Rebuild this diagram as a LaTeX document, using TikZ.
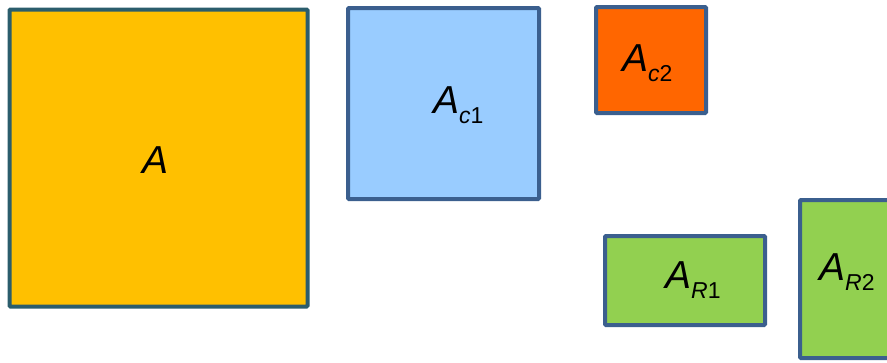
\documentclass[tikz,border=0pt]{standalone}
\usepackage{fontspec}
\setmainfont{Liberation Sans}
\usepackage{tikz}
\usetikzlibrary{positioning}

\definecolor{areaA}{HTML}{FFC000}
\definecolor{areaC1}{HTML}{99CCFF}
\definecolor{areaC2}{HTML}{FF6600}
\definecolor{areaR}{HTML}{92D050}
\definecolor{edgeTeal}{HTML}{2B5D6C}
\definecolor{edgeBlue}{HTML}{3B5F8E}

\newcommand{\arealbl}[2]{\fontsize{39}{39}\selectfont\itshape A\raisebox{-10pt}{\fontsize{23}{23}\selectfont #1\upshape #2}}

\begin{document}
\begin{tikzpicture}[
  x=1pt, y=-1pt,
  box/.style={rectangle, draw=edgeBlue, line width=4pt, rounded corners=1pt, inner sep=0pt},
  lbl/.style={anchor=base west, inner sep=0pt}
]
\useasboundingbox (0,0) rectangle (887,362);
\clip (0,0) rectangle (887,362);

% Big square
\node[box, draw=edgeTeal, fill=areaA, minimum width=298pt, minimum height=297pt] (boxA) at (158.5, 158) {};
\node[lbl] (lblA) at (142, 173) {\arealbl{}{}};

% Square areas
\node[box, fill=areaC1, minimum width=191pt, minimum height=191pt] (boxC1) at (443.5, 103.5) {};
\node[lbl] (lblC1) at (433, 113) {\arealbl{c}{1}};

\node[box, fill=areaC2, minimum width=110pt, minimum height=106pt] (boxC2) at (651, 60) {};
\node[lbl] (lblC2) at (622, 71) {\arealbl{c}{2}};

% Rectangle areas
\node[box, fill=areaR, minimum width=160pt, minimum height=89pt] (boxR1) at (685, 280.5) {};
\node[lbl] (lblR1) at (665, 288) {\arealbl{R}{1}};

\node[box, fill=areaR, minimum width=160pt, minimum height=158pt] (boxR2) at (880, 279) {};
\node[lbl] (lblR2) at (819, 280) {\arealbl{R}{2}};

\end{tikzpicture}
\end{document}
